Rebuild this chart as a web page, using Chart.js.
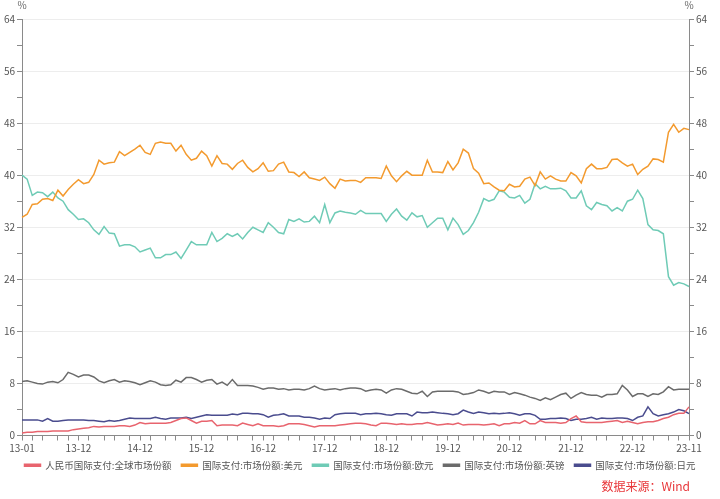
<!DOCTYPE html>
<html lang="zh">
  <head>
    <meta charset="UTF-8" />
    <title>国际支付市场份额</title>
    <script src="https://cdn.jsdelivr.net/npm/chart.js"></script>
    <style>
      * {
        margin: 0;
        padding: 0;
        box-sizing: border-box;
      }

      body {
        background: #fff;
        font-family: "Noto Sans CJK SC", "Noto Sans", sans-serif;
      }

      .wrap {
        position: relative;
        width: 720px;
        height: 499px;
      }

      .source {
        position: absolute;
        right: 30px;
        bottom: 5px;
        color: #e8373a;
        font-size: 12px;
      }
    </style>
  </head>
  <body>
    <div class="wrap">
      <canvas id="shareChart"></canvas>
      <div class="source">数据来源：Wind</div>
    </div>

    <script>
      // months 13-01 .. 23-11
      const months = [];
      for (let y = 13; y <= 23; y++) {
        for (let m = 1; m <= 12; m++) {
          if (y === 23 && m > 11) break;
          months.push(y + "-" + String(m).padStart(2, "0"));
        }
      }

      const cnyShare = [
        0.4, 0.5, 0.5, 0.6, 0.6, 0.6, 0.7, 0.7, 0.7, 0.7, 0.9, 1.0,
        1.1, 1.2, 1.4, 1.3, 1.4, 1.4, 1.4, 1.5, 1.5, 1.4, 1.6, 2.0,
        1.8, 1.9, 1.9, 1.9, 1.9, 2.0, 2.3, 2.6, 2.7, 2.3, 1.9, 2.2,
        2.2, 2.3, 1.5, 1.6, 1.6, 1.6, 1.5, 1.9, 1.7, 1.5, 1.8, 1.5,
        1.5, 1.5, 1.4, 1.5, 1.8, 1.8, 1.8, 1.7, 1.5, 1.3, 1.5, 1.5,
        1.5, 1.5, 1.6, 1.7, 1.8, 1.9, 1.9, 1.8, 1.6, 1.5, 1.9, 1.9,
        1.8, 1.7, 1.8, 1.7, 1.7, 1.8, 1.8, 2.0, 1.8, 1.6, 1.7, 1.8,
        1.7, 1.9, 1.6, 1.7, 1.7, 1.7, 1.6, 1.7, 1.8, 1.5, 1.8, 1.8,
        2.0, 1.9, 2.3, 1.8, 1.8, 2.3, 2.0, 2.0, 2.0, 1.9, 2.0, 2.6,
        3.0, 2.1, 2.0, 2.0, 2.0, 2.0, 2.1, 2.2, 2.3, 2.0, 2.2, 2.0,
        1.8, 2.0, 2.1, 2.1, 2.3, 2.6, 2.8, 3.2, 3.4, 3.4, 4.4,
      ];

      const usdShare = [
        33.5, 34.0, 35.5, 35.6, 36.3, 36.4, 36.1, 37.7, 36.8, 37.8, 38.6, 39.3,
        38.7, 38.9, 40.1, 42.3, 41.7, 41.9, 42.0, 43.6, 43.0, 43.5, 44.0, 44.6,
        43.5, 43.2, 44.9, 45.1, 44.9, 44.9, 43.7, 44.6, 43.2, 42.3, 42.6, 43.7,
        43.0, 41.4, 43.0, 41.8, 41.7, 40.9, 41.8, 42.3, 41.2, 40.5, 41.0, 41.9,
        40.6, 40.7, 41.7, 42.0, 40.5, 40.4, 39.8, 40.5, 39.6, 39.4, 39.2, 39.7,
        38.7, 38.0, 39.4, 39.1, 39.2, 39.2, 38.9, 39.6, 39.6, 39.6, 39.5, 41.4,
        39.9, 39.0, 39.9, 40.6, 40.0, 40.0, 40.0, 42.3, 40.5, 40.5, 40.4, 42.1,
        40.8, 41.9, 44.0, 43.4, 41.0, 40.3, 38.7, 38.8, 38.2, 37.7, 37.6, 38.6,
        38.2, 38.3, 39.4, 39.7, 38.4, 40.5, 39.4, 39.9, 39.4, 39.1, 39.1, 40.4,
        39.9, 38.8, 41.0, 41.7, 41.0, 41.0, 41.2, 42.4, 42.5, 41.9, 41.4, 41.7,
        40.1, 40.9, 41.4, 42.5, 42.4, 42.0, 46.6, 47.8, 46.6, 47.2, 47.0,
      ];

      const eurShare = [
        40.0, 39.4, 36.9, 37.4, 37.3, 36.7, 37.4, 36.5, 36.0, 34.7, 34.0, 33.2,
        33.3, 32.7, 31.6, 30.9, 32.1, 31.1, 31.0, 29.1, 29.3, 29.3, 29.0, 28.2,
        28.5, 28.8, 27.3, 27.3, 27.8, 27.8, 28.2, 27.2, 28.5, 29.8, 29.3, 29.3,
        29.3, 31.2, 29.8, 30.3, 31.0, 30.6, 31.0, 30.2, 31.2, 32.0, 31.6, 31.2,
        32.7, 32.0, 31.2, 31.0, 33.2, 32.9, 33.3, 32.8, 32.9, 33.7, 32.7, 35.5,
        32.7, 34.2, 34.5, 34.3, 34.2, 34.0, 34.6, 34.1, 34.1, 34.1, 34.1, 32.9,
        34.0, 34.8, 33.7, 33.1, 34.2, 33.6, 33.8, 32.0, 32.7, 33.4, 33.4, 31.6,
        33.4, 32.4, 30.9, 31.5, 32.7, 34.3, 36.4, 36.0, 36.3, 37.6, 37.4, 36.6,
        36.5, 36.9, 35.7, 36.3, 38.7, 37.9, 38.3, 37.9, 37.9, 38.0, 37.6, 36.5,
        36.5, 37.6, 35.3, 34.7, 35.8, 35.5, 35.3, 34.5, 35.0, 34.5, 36.0, 36.3,
        37.7, 36.4, 32.4, 31.6, 31.5, 31.0, 24.4, 23.1, 23.5, 23.3, 22.9,
      ];

      const gbpShare = [
        8.3, 8.4, 8.2, 8.0, 7.9, 8.2, 8.3, 8.1, 8.6, 9.7, 9.4, 9.0,
        9.3, 9.3, 9.0, 8.4, 8.1, 8.4, 8.6, 8.2, 8.4, 8.3, 8.1, 7.8,
        8.1, 8.4, 8.2, 7.8, 7.7, 7.8, 8.5, 8.2, 8.9, 8.9, 8.6, 8.2,
        8.5, 8.6, 7.9, 8.2, 7.7, 8.6, 7.7, 7.7, 7.7, 7.6, 7.4, 7.1,
        7.3, 7.3, 7.1, 7.2, 7.0, 7.1, 7.1, 7.0, 7.2, 7.6, 7.2, 7.0,
        7.1, 7.2, 7.0, 7.2, 7.3, 7.3, 7.2, 6.8, 7.0, 7.1, 7.0, 6.5,
        7.0, 7.2, 7.1, 6.8, 6.5, 6.4, 6.8, 6.0, 6.7, 6.8, 6.8, 6.8,
        6.8, 6.7, 6.3, 6.4, 6.6, 7.0, 6.8, 6.5, 6.8, 6.7, 6.7, 6.3,
        6.6, 6.4, 6.2, 5.9, 5.7, 5.4, 5.8, 5.5, 5.9, 6.3, 6.5, 5.7,
        6.2, 6.6, 6.3, 6.2, 6.2, 5.9, 6.3, 6.3, 6.4, 7.7, 7.0, 6.0,
        6.4, 6.4, 6.0, 6.4, 6.3, 6.7, 7.5, 7.0, 7.1, 7.1, 7.1,
      ];

      const jpyShare = [
        2.4, 2.4, 2.4, 2.4, 2.2, 2.6, 2.2, 2.2, 2.3, 2.4, 2.4, 2.4,
        2.4, 2.3, 2.3, 2.2, 2.1, 2.3, 2.2, 2.3, 2.5, 2.7, 2.6, 2.6,
        2.6, 2.6, 2.8, 2.6, 2.5, 2.7, 2.7, 2.7, 2.8, 2.6, 2.8, 3.0,
        3.2, 3.1, 3.1, 3.1, 3.1, 3.3, 3.2, 3.4, 3.4, 3.35, 3.35, 3.2,
        2.8, 3.1, 3.2, 3.35, 3.0, 3.0, 3.0, 2.8, 2.8, 2.7, 2.5, 2.7,
        2.6, 3.2, 3.35, 3.4, 3.4, 3.4, 3.2, 3.35, 3.35, 3.4, 3.35, 3.2,
        3.1, 3.35, 3.35, 3.35, 3.0, 3.6, 3.5, 3.5, 3.6, 3.5, 3.4, 3.35,
        3.2, 3.35, 3.9, 3.6, 3.4, 3.6, 3.5, 3.35, 3.4, 3.35, 3.4, 3.5,
        3.35, 3.1, 3.35, 3.35, 3.1, 2.5, 2.5, 2.6, 2.6, 2.7, 2.6, 2.3,
        2.5, 2.5, 2.6, 2.8, 2.5, 2.7, 2.6, 2.6, 2.7, 2.7, 2.6, 2.3,
        2.8, 3.0, 4.4, 3.35, 3.0, 3.2, 3.35, 3.6, 4.0, 3.8, 3.35,
      ];

      const seriesNames = [
        "人民币国际支付:全球市场份额",
        "国际支付:市场份额:美元",
        "国际支付:市场份额:欧元",
        "国际支付:市场份额:英镑",
        "国际支付:市场份额:日元",
      ];
      const seriesColors = ["#e8646e", "#f39a2e", "#6fcbb6", "#6b6b6b", "#4a4c8e"];
      const yTicks = [0, 8, 16, 24, 32, 40, 48, 56, 64];

      // labelled x positions: first month, each December, last month
      const majorIdx = months
        .map((m, i) => (i === 0 || i === months.length - 1 || m.endsWith("-12") ? i : -1))
        .filter((i) => i >= 0);
      // small tick marks: 4 between each pair of labels
      const markIdx = new Set(majorIdx);
      for (let k = 0; k < majorIdx.length - 1; k++) {
        const a = majorIdx[k], b = majorIdx[k + 1];
        for (let j = 1; j < 5; j++) markIdx.add(Math.round(a + ((b - a) * j) / 5));
      }

      const axisColor = "#8a8a8a";
      const tickFont = { size: 10, family: "'Noto Sans CJK SC', 'Noto Sans', sans-serif" };

      const percentLabels = {
        id: "percentLabels",
        afterLayout(chart) {
          // lift the legend a little closer to the axis
          chart.legend.top -= 6;
          chart.legend.bottom -= 6;
        },
        afterDraw(chart) {
          const { ctx, chartArea } = chart;
          ctx.save();
          ctx.fillStyle = "#666";
          ctx.font = "10px 'Noto Sans CJK SC', sans-serif";
          ctx.textAlign = "center";
          ctx.textBaseline = "middle";
          ctx.fillText("%", chartArea.left, 5);
          ctx.fillText("%", chartArea.right, 5);
          ctx.restore();
        },
      };

      const yAxis = (pos, width, grid) => ({
        position: pos,
        min: 0,
        max: 64,
        afterFit: (s) => {
          s.width = width;
        },
        afterBuildTicks: (s) => {
          s.ticks = [];
          for (let v = 0; v <= 64; v += 4) s.ticks.push({ value: v });
        },
        border: { color: axisColor },
        grid: {
          drawOnChartArea: grid,
          tickLength: 5,
          tickColor: axisColor,
          color: (c) =>
            c.tick && c.tick.value % 8 === 0 && c.tick.value > 0 ? "#ededed" : "rgba(0,0,0,0)",
        },
        ticks: {
          padding: 2,
          color: "#555",
          font: tickFont,
          callback: (v) => (yTicks.includes(v) ? v : ""),
        },
      });

      const ctx = document.getElementById("shareChart").getContext("2d");
      new Chart(ctx, {
        type: "line",
        data: {
          labels: months,
          datasets: [cnyShare, usdShare, eurShare, gbpShare, jpyShare].map((d, i) => ({
            label: seriesNames[i],
            data: d,
            borderColor: seriesColors[i],
            backgroundColor: seriesColors[i],
            borderWidth: 1.5,
            pointRadius: 0,
            tension: 0,
            yAxisID: "y",
          })),
        },
        options: {
          responsive: true,
          maintainAspectRatio: false,
          animation: false,
          layout: { padding: { top: 19, bottom: 13, left: 0, right: 0 } },
          plugins: {
            tooltip: { enabled: false },
            legend: {
              position: "bottom",
              labels: {
                boxWidth: 16,
                boxHeight: 2,
                padding: 10,
                color: "#555",
                font: { size: 9.5, family: "'Noto Sans CJK SC', sans-serif" },
              },
            },
          },
          scales: {
            x: {
              border: { color: axisColor },
              grid: {
                drawOnChartArea: false,
                tickLength: 5,
                tickColor: (c) => (markIdx.has(c.index) ? axisColor : "rgba(0,0,0,0)"),
              },
              ticks: {
                autoSkip: false,
                maxRotation: 0,
                padding: 2,
                color: "#555",
                font: tickFont,
                callback: (v, i) => (majorIdx.includes(i) ? months[i] : ""),
              },
            },
            y: yAxis("left", 22, true),
            y2: yAxis("right", 31, false),
          },
        },
        plugins: [percentLabels],
      });
    </script>
  </body>
</html>
